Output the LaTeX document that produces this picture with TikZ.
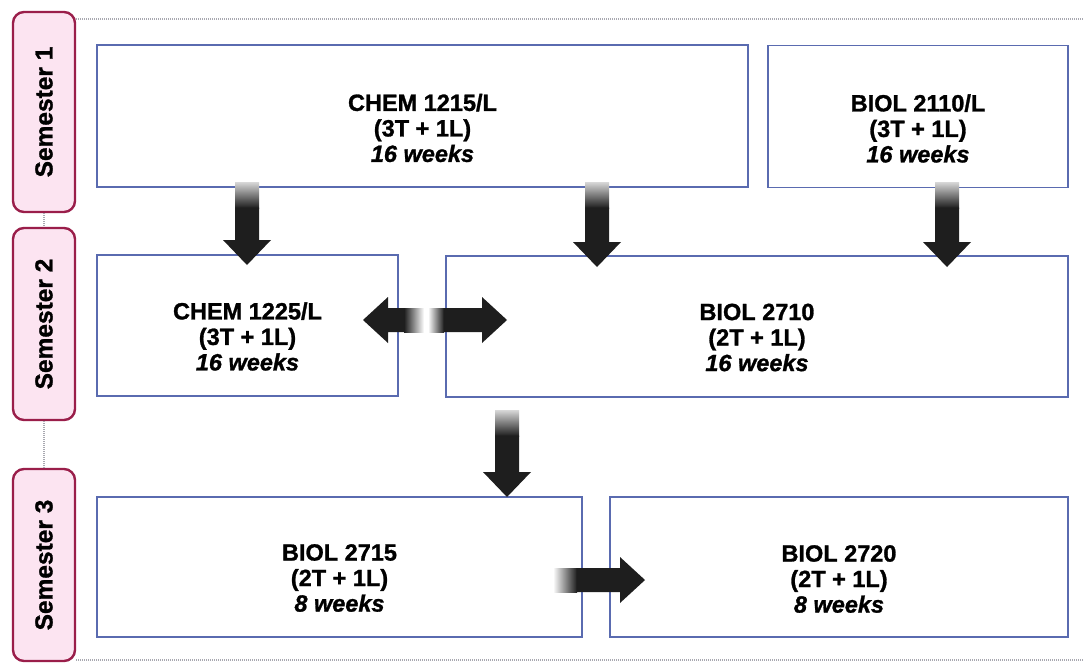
\documentclass[tikz,border=0pt]{standalone}
\usepackage{fontspec}
\setmainfont{Liberation Sans}[BoldFeatures={FakeBold=1.2},BoldItalicFeatures={FakeBold=1.2}]
\usetikzlibrary{calc}
\definecolor{boxblue}{HTML}{5A6BB0}
\definecolor{semfill}{HTML}{FCE4F1}
\definecolor{semdraw}{HTML}{9A1E4A}
\definecolor{arrdark}{HTML}{1E1E1E}
\definecolor{arrfade}{HTML}{D8D8D8}
\definecolor{dotgray}{HTML}{A8A8B0}
% vertical block arrow: #1 start (faded end), #2 tip
\newcommand\dblock[2]{%
  \path let \p1=(#1), \p2=(#2) in
    [shade, top color=arrfade, bottom color=arrdark]
    (\x1-12pt,\y1) rectangle (\x1+12pt,\y1-26pt);
  \path let \p1=(#1), \p2=(#2) in
    [fill=arrdark]
    (\x1-12pt,\y1-25.5pt) -- (\x1+12pt,\y1-25.5pt) -- (\x1+12pt,\y2+25pt)
    -- (\x1+24pt,\y2+25pt) -- (\x2,\y2) -- (\x1-24pt,\y2+25pt)
    -- (\x1-12pt,\y2+25pt) -- cycle;}
% right-pointing block arrow
\newcommand\rblock[3]{% #3 fade length
  \path let \p1=(#1), \p2=(#2) in
    [shade, left color=white, right color=arrdark]
    (\x1,\y1-12pt) rectangle (\x1+#3,\y1+12pt);
  \path let \p1=(#1), \p2=(#2) in
    [fill=arrdark]
    (\x1+#3-0.5pt,\y1-12pt) -- (\x1+#3-0.5pt,\y1+12pt) -- (\x2-25pt,\y1+12pt)
    -- (\x2-25pt,\y1+23pt) -- (\x2,\y2) -- (\x2-25pt,\y1-23pt)
    -- (\x2-25pt,\y1-12pt) -- cycle;}
% left-pointing block arrow
\newcommand\lblock[3]{%
  \path let \p1=(#1), \p2=(#2) in
    [shade, left color=arrdark, right color=white]
    (\x1-#3,\y1-12pt) rectangle (\x1,\y1+12pt);
  \path let \p1=(#1), \p2=(#2) in
    [fill=arrdark]
    (\x1-#3+0.5pt,\y1-12pt) -- (\x1-#3+0.5pt,\y1+12pt) -- (\x2+25pt,\y1+12pt)
    -- (\x2+25pt,\y1+23pt) -- (\x2,\y2) -- (\x2+25pt,\y1-23pt)
    -- (\x2+25pt,\y1-12pt) -- cycle;}
\begin{document}
\begin{tikzpicture}[x=1pt,y=-1pt,
  course/.style={draw=boxblue, line width=1.3pt, fill=white, inner sep=0pt},
  ctext/.style={align=center, font=\fontsize{23.5}{25.5}\selectfont\bfseries, inner sep=0pt},
  sem/.style={draw=semdraw, fill=semfill, line width=2.4pt, rounded corners=11pt,
    minimum width=62pt, inner sep=0pt},
  semtext/.style={rotate=90, font=\fontsize{24.5}{26}\selectfont\bfseries, inner sep=0pt},
  dots/.style={draw=dotgray, line width=1.2pt, dash pattern=on 1pt off 1pt}]
\useasboundingbox (0,0) rectangle (1083,664);
\fill[white] (0,0) rectangle (1083,664);

% semester labels
\node[sem, minimum height=200pt] (s1) at (44,112) {};
\node[sem, minimum height=192pt] (s2) at (44,324) {};
\node[sem, minimum height=192pt] (s3) at (44,565) {};
\node[semtext] (s1t) at (s1.center) {Semester 1};
\node[semtext] (s2t) at (s2.center) {Semester 2};
\node[semtext] (s3t) at (s3.center) {Semester 3};
\coordinate (topend) at (1083,19);
\coordinate (botend) at (1083,660);
\draw[dots] (s1.north east |- topend) -- (topend);
\draw[dots] (s3.south east |- botend) -- (botend);
\draw[dots] (s1.south) -- (s2.north);
\draw[dots] (s2.south) -- (s3.north);

% course boxes
\node[course, minimum width=651pt, minimum height=142pt] (c1215) at (422.5,116) {};
\node[course, minimum width=300pt, minimum height=142pt] (b2110) at (918,116.5) {};
\node[course, minimum width=301pt, minimum height=141pt] (c1225) at (247.5,325.5) {};
\node[course, minimum width=622pt, minimum height=141pt] (b2710) at (757,326.5) {};
\node[course, minimum width=485pt, minimum height=140pt] (b2715) at (339.5,567) {};
\node[course, minimum width=458pt, minimum height=140pt] (b2720) at (839,567) {};

\node[ctext] (c1215t) at ([yshift=-12pt]c1215.center) {CHEM 1215/L\\(3T + 1L)\\\textit{16 weeks}};
\node[ctext] (b2110t) at ([yshift=-12pt]b2110.center) {BIOL 2110/L\\(3T + 1L)\\\textit{16 weeks}};
\node[ctext] (c1225t) at ([yshift=-11pt]c1225.center) {CHEM 1225/L\\(3T + 1L)\\\textit{16 weeks}};
\node[ctext] (b2710t) at ([yshift=-11pt]b2710.center) {BIOL 2710\\(2T + 1L)\\\textit{16 weeks}};
\node[ctext] (b2715t) at ([yshift=-11pt]b2715.center) {BIOL 2715\\(2T + 1L)\\\textit{8 weeks}};
\node[ctext] (b2720t) at ([yshift=-12pt]b2720.center) {BIOL 2720\\(2T + 1L)\\\textit{8 weeks}};

% block arrows
\coordinate (a1s) at (247,182); \coordinate (a1e) at (247,265);
\coordinate (a2s) at (597,182); \coordinate (a2e) at (597,267);
\coordinate (a3s) at (947,182); \coordinate (a3e) at (947,267);
\coordinate (a4s) at (507,410); \coordinate (a4e) at (507,497);
\coordinate (a5s) at (553,580); \coordinate (a5e) at (645,580);
\coordinate (d1s) at (424,320); \coordinate (d1e) at (363,320);
\coordinate (d2s) at (428,320); \coordinate (d2e) at (507,320);
\dblock{a1s}{a1e}
\dblock{a2s}{a2e}
\dblock{a3s}{a3e}
\dblock{a4s}{a4e}
\rblock{a5s}{a5e}{24pt}
\lblock{d1s}{d1e}{20pt}
\rblock{d2s}{d2e}{16pt}
\end{tikzpicture}
\end{document}
